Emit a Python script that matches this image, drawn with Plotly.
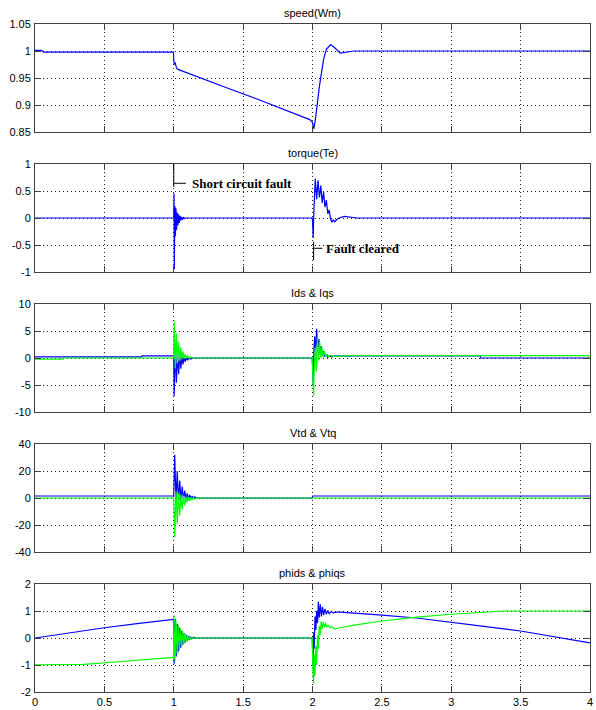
import plotly.graph_objects as go

# ---------------- data ----------------
titles = ["speed(Wm)", "torque(Te)", "Ids & Iqs", "Vtd & Vtq", "phids & phiqs"]

y_ranges = [[0.85, 1.05], [-1, 1], [-10, 10], [-40, 40], [-2, 2]]
y_tickvals = [[0.85, 0.9, 0.95, 1, 1.05], [-1, -0.5, 0, 0.5, 1], [-10, -5, 0, 5, 10],
              [-40, -20, 0, 20, 40], [-2, -1, 0, 1, 2]]
y_ticktext = [["0.85", "0.9", "0.95", "1", "1.05"], ["-1", "-0.5", "0", "0.5", "1"],
              ["-10", "-5", "0", "5", "10"], ["-40", "-20", "0", "20", "40"],
              ["-2", "-1", "0", "1", "2"]]
x_tickvals = [0, 0.5, 1, 1.5, 2, 2.5, 3, 3.5, 4]
x_ticktext = ["0", "0.5", "1", "1.5", "2", "2.5", "3", "3.5", "4"]

speed_t = [0, 0.05, 0.06, 0.998, 1.0, 1.005, 1.01, 1.015, 1.02, 1.03, 1.05, 1.1, 1.14, 1.2, 1.4,
           1.6, 1.8, 1.98, 2.0, 2.01, 2.02, 2.05, 2.08, 2.1, 2.13, 2.16, 2.2, 2.24, 2.3, 4.0]
speed_v = [1.001, 1.001, 0.998, 0.998, 0.982, 0.975, 0.979, 0.972, 0.968, 0.966, 0.964, 0.959,
           0.956, 0.950, 0.930, 0.911, 0.891, 0.873, 0.868, 0.856, 0.872, 0.935, 0.985, 1.003,
           1.012, 1.006, 0.996, 0.998, 1.0, 1.0]

torque_t = [0, 0.999, 1.0, 1.002, 1.004, 1.008, 1.012, 1.016, 1.020, 1.025, 1.030, 1.035, 1.040,
            1.045, 1.050, 1.056, 1.062, 1.070, 1.080, 1.09, 1.998, 2.0, 2.005, 2.010, 2.02,
            2.03, 2.04, 2.05, 2.06, 2.07, 2.08, 2.09, 2.10, 2.11, 2.12, 2.13, 2.14, 2.15, 2.16,
            2.18, 2.2, 2.23, 2.27, 2.32, 4.0]
torque_v = [0, 0, 0, 0.46, -0.95, 0.22, -0.34, 0.18, -0.22, 0.10, -0.14, 0.07, -0.09,
            0.04, -0.05, 0.02, -0.03, 0.01, -0.01, 0.0, 0.0, -0.05, -0.37, 0.15, 0.73,
            0.35, 0.70, 0.38, 0.60, 0.28, 0.48, 0.20, 0.33, 0.08, 0.15, -0.02, -0.08, -0.03, -0.07,
            -0.02, 0.01, 0.03, 0.02, 0.0, 0.0]

ids_t = [0, 0.77, 0.771, 0.998, 1.0, 1.003, 1.011, 1.019, 1.027, 1.035, 1.043, 1.051, 1.059,
         1.067, 1.075, 1.083, 1.091, 1.10, 1.11, 1.12, 1.14, 1.998, 2.002, 2.006, 2.010, 2.016,
         2.022, 2.030, 2.038, 2.046, 2.054, 2.062, 2.070, 2.080, 2.090, 2.10, 2.11, 2.12, 2.14,
         2.16, 2.2, 2.3, 3.21, 3.211, 4.0]
ids_v = [0.2, 0.2, 0.4, 0.4, 0.4, -7.1, 2.0, -4.6, 1.0, -3.0, 0.6, -2.0, 0.3,
         -1.2, 0.2, -0.7, 0.1, -0.4, 0.05, -0.2, 0.0, 0.0, -2.0, -5.2, 1.5, 4.0,
         0.5, 5.4, 1.5, 3.5, 0.8, 2.2, 0.4, 1.2, 0.2, 0.7, 0.1, 0.4, 0.2,
         0.4, 0.35, 0.4, 0.4, 0.0, 0.0]

iqs_t = [0, 0.2, 0.201, 0.998, 1.0, 1.003, 1.011, 1.019, 1.027, 1.035, 1.043, 1.051, 1.059,
         1.067, 1.075, 1.083, 1.091, 1.10, 1.11, 1.12, 1.14, 1.998, 2.003, 2.008, 2.014, 2.020,
         2.028, 2.036, 2.044, 2.052, 2.060, 2.068, 2.076, 2.085, 2.095, 2.105, 2.115, 2.13, 2.15,
         2.2, 2.3, 3.99, 3.991, 4.0]
iqs_v = [-0.2, -0.2, 0.0, 0.0, 0.0, 6.8, -2.0, 4.6, -1.0, 3.0, -0.5, 2.0, -0.2,
         1.2, -0.1, 0.7, 0.0, 0.4, 0.0, 0.2, 0.0, 0.0, -6.0, -7.0, -1.0, 2.0,
         -2.5, 4.0, -0.5, 3.0, 0.0, 2.0, 0.2, 1.2, 0.2, 0.8, 0.2, 0.5, 0.3,
         0.35, 0.45, 0.45, 0.0, 0.0]

vtd_t = [0, 0.999, 1.0, 1.007, 1.016, 1.025, 1.034, 1.043, 1.052, 1.061, 1.070, 1.079, 1.088,
         1.097, 1.106, 1.115, 1.124, 1.133, 1.142, 1.151, 1.16, 1.999, 2.0, 2.001, 4.0]
vtd_v = [1.5, 1.5, 1.5, 32, -3, 20, -2.5, 13, -2, 8.5, -1.5, 5.5, -1,
         3.5, -0.7, 2.2, -0.4, 1.4, -0.2, 0.9, 0.0, 0.0, 0.0, 1.5, 1.5]

vtq_t = [0, 0.999, 1.0, 1.007, 1.016, 1.025, 1.034, 1.043, 1.052, 1.061, 1.070, 1.079, 1.088,
         1.097, 1.106, 1.115, 1.124, 1.133, 1.142, 1.151, 1.16, 4.0]
vtq_v = [0, 0, 0, -29, 5, -19, 3.5, -13, 2.5, -8.5, 1.7, -5.5, 1.1,
         -3.5, 0.7, -2.2, 0.4, -1.4, 0.2, -0.9, 0.0, 0.0]

phids_t = [0, 0.25, 0.5, 0.75, 0.998, 1.003, 1.010, 1.018, 1.026, 1.034, 1.042, 1.050, 1.058,
           1.066, 1.074, 1.082, 1.090, 1.098, 1.106, 1.114, 1.122, 1.13, 1.14, 1.16, 1.998,
           2.004, 2.008, 2.012, 2.018, 2.024, 2.030, 2.036, 2.042, 2.048, 2.056, 2.064, 2.072,
           2.080, 2.090, 2.10, 2.11, 2.12, 2.135, 2.15, 2.17, 2.2, 2.3, 2.5, 2.75, 3.0, 3.25,
           3.5, 3.75, 4.0]
phids_v = [0.0, 0.19, 0.38, 0.54, 0.69, -0.95, 0.7, -0.68, 0.52, -0.5, 0.38, -0.36, 0.27,
           -0.25, 0.18, -0.17, 0.12, -0.1, 0.07, -0.06, 0.04, -0.03, 0.02, 0.0, 0.0,
           -1.05, 0.2, -0.4, 0.8, 0.3, 1.0, 0.55, 1.34, 0.75, 1.25, 0.8, 1.15,
           0.85, 1.08, 0.88, 1.02, 0.9, 0.98, 0.93, 0.96, 0.96, 0.93, 0.85, 0.74, 0.57, 0.42,
           0.26, 0.05, -0.18]

phiqs_t = [0, 0.35, 0.6, 0.8, 0.998, 1.002, 1.008, 1.016, 1.024, 1.032, 1.040, 1.048, 1.056,
           1.064, 1.072, 1.080, 1.088, 1.096, 1.104, 1.112, 1.12, 1.13, 1.14, 1.16, 1.998,
           2.003, 2.008, 2.013, 2.018, 2.024, 2.030, 2.036, 2.042, 2.048, 2.055, 2.062, 2.07,
           2.078, 2.086, 2.094, 2.102, 2.112, 2.125, 2.14, 2.16, 2.18, 2.2, 2.3, 2.5, 2.75,
           3.0, 3.2, 3.35, 3.4, 4.0]
phiqs_v = [-0.99, -0.98, -0.88, -0.8, -0.72, 0.84, -0.85, 0.65, -0.6, 0.48, -0.45, 0.35, -0.32,
           0.25, -0.22, 0.16, -0.14, 0.1, -0.08, 0.06, -0.04, 0.03, -0.02, 0.0, 0.0,
           -1.2, -1.69, -0.6, -1.4, -0.3, -1.0, 0.1, -0.4, 0.45, 0.1, 0.62, 0.35,
           0.6, 0.4, 0.55, 0.4, 0.48, 0.38, 0.42, 0.33, 0.36, 0.38, 0.48, 0.63, 0.77,
           0.88, 0.95, 0.99, 1.0, 1.0]

# ---------------- styling ----------------
BLUE = "#0000FF"
GREEN = "#00FF00"
SANS = "Liberation Sans, Arial, sans-serif"
TICK_FONT = dict(family=SANS, size=11, color="black")
TITLE_FONT = dict(family=SANS, size=11, color="black")
NOTE_FONT = dict(family="Liberation Serif, Times New Roman, serif", size=13, color="black")

W, H = 596, 710
ML, MR, MT, MB = 35, 6, 24, 18
plot_h = H - MT - MB
row_h, row_step = 108, 140

fig = go.Figure()

series = [
    (0, speed_t, speed_v, BLUE),
    (1, torque_t, torque_v, BLUE),
    (2, ids_t, ids_v, BLUE),
    (2, iqs_t, iqs_v, GREEN),
    (3, vtd_t, vtd_v, BLUE),
    (3, vtq_t, vtq_v, GREEN),
    (4, phids_t, phids_v, BLUE),
    (4, phiqs_t, phiqs_v, GREEN),
]
for row, t, v, col in series:
    sfx = "" if row == 0 else str(row + 1)
    fig.add_trace(go.Scatter(x=t, y=v, mode="lines", line=dict(color=col, width=1.2),
                             xaxis="x" + sfx, yaxis="y" + sfx, showlegend=False,
                             hoverinfo="skip"))

layout = dict(width=W, height=H, margin=dict(l=ML, r=MR, t=MT, b=MB, autoexpand=False),
              paper_bgcolor="white", plot_bgcolor="white", showlegend=False)

annotations = []
for i in range(5):
    sfx = "" if i == 0 else str(i + 1)
    top = 1 - (row_step * i) / plot_h
    bottom = top - row_h / plot_h
    axis_common = dict(showline=True, linecolor="#404040", linewidth=1, mirror="ticks",
                       ticks="inside", ticklen=6, tickcolor="#404040",
                       showgrid=True, gridcolor="#202020", gridwidth=1, griddash="1px,3px",
                       zeroline=False, tickfont=TICK_FONT, automargin=False,
                       ticklabeloverflow="allow")
    layout["xaxis" + sfx] = dict(axis_common, domain=[0, 1], range=[0, 4],
                                 tickvals=x_tickvals, ticktext=x_ticktext,
                                 showticklabels=(i == 4), anchor="y" + sfx)
    layout["yaxis" + sfx] = dict(axis_common, domain=[bottom, top], range=y_ranges[i],
                                 tickvals=y_tickvals[i], ticktext=y_ticktext[i],
                                 anchor="x" + sfx, ticklabelstandoff=1)
    annotations.append(dict(text=titles[i], xref="paper", yref="paper", x=0.5, y=top,
                            xanchor="center", yanchor="middle", yshift=11,
                            showarrow=False, font=TITLE_FONT))

# text notes on the torque panel
notes = [("<b>Short circuit fault</b>", 1.117, 0.643), ("<b>Fault cleared</b>", 2.081, -0.561)]
for txt, nx, ny in notes:
    annotations.append(dict(text=txt, xref="x2", yref="y2", x=nx, y=ny, xanchor="left",
                            yanchor="middle", showarrow=False, font=NOTE_FONT))
layout["annotations"] = annotations

leader_lines = [
    (1.0, 1.0, 1.0, 0.574), (1.0, 0.643, 1.088, 0.643),
    (2.008, -0.44, 2.008, -0.78), (2.008, -0.561, 2.072, -0.561),
]
layout["shapes"] = [dict(type="line", xref="x2", yref="y2", x0=a, y0=b, x1=c, y1=d,
                         line=dict(color="black", width=1)) for a, b, c, d in leader_lines]

fig.update_layout(**layout)
fig.write_html("out.html", config={"displayModeBar": False},
               post_script="document.body.style.margin='0';document.body.style.overflow='hidden';")
